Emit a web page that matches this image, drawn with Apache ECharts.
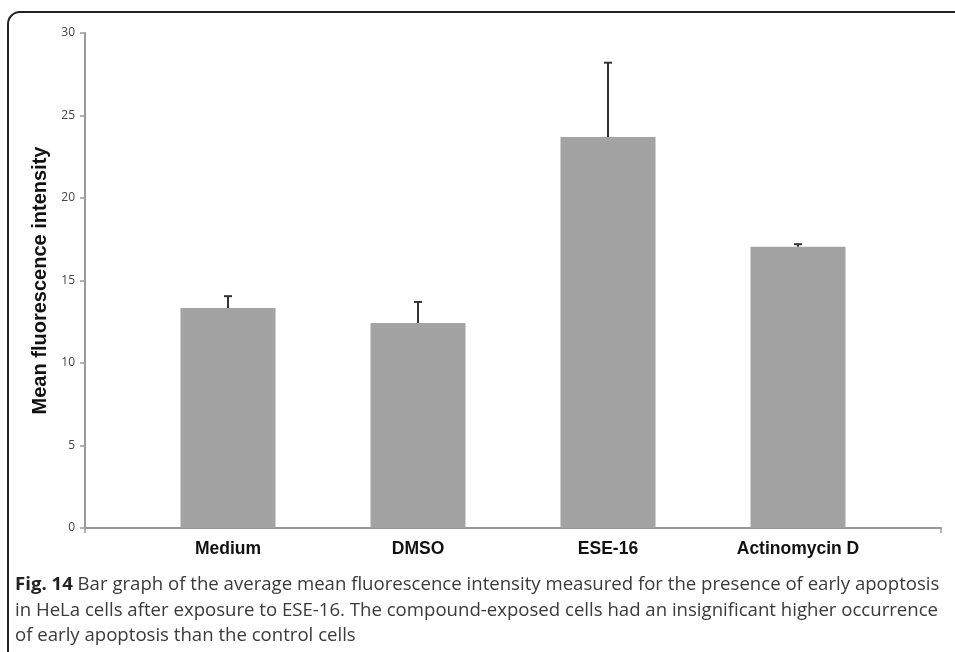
<!DOCTYPE html>
<html><head><meta charset="utf-8">
<script src="https://cdn.jsdelivr.net/npm/echarts@6/dist/echarts.min.js"></script>
<style>html,body{margin:0;padding:0;background:#fff}#c{width:955px;height:652px}</style>
</head><body><div id="c"></div>
<script>
var categories = ['Medium', 'DMSO', 'ESE-16', 'Actinomycin D'];
var means = [13.33, 12.42, 23.7, 17.05];
var errTops = [14.05, 13.7, 28.2, 17.2];
var yTicks = [0, 5, 10, 15, 20, 25, 30];

var chart = echarts.init(document.getElementById('c'));
var errData = categories.map(function (c, i) { return [i, means[i], errTops[i]]; });
var caption = '{b|Fig. 14} Bar graph of the average mean fluorescence intensity measured for the presence of early apoptosis\n' +
  'in HeLa cells after exposure to ESE-16. The compound-exposed cells had an insignificant higher occurrence\n' +
  'of early apoptosis than the control cells';
chart.setOption({
  animation: false,
  backgroundColor: '#fff',
  title: {
    text: caption, left: 10, top: 567,
    textStyle: {
      fontFamily: 'Open Sans', fontSize: 18.6, fontWeight: 'normal', color: '#3a3a3a', lineHeight: 25.5,
      rich: { b: { fontFamily: 'Open Sans', fontSize: 18.6, fontWeight: 'bold', color: '#222', lineHeight: 25.5 } }
    }
  },
  graphic: [{
    type: 'rect', silent: true,
    shape: { x: 8, y: 12, width: 1000, height: 700, r: [12, 0, 0, 0] },
    style: { fill: 'none', stroke: '#222', lineWidth: 2 }
  }],
  grid: [
    { left: 85, right: 14, top: 33, bottom: 124 },
    { left: 133, right: 62, top: 33, bottom: 124 }
  ],
  xAxis: [
    { type: 'value', gridIndex: 0, min: 0, max: 1, interval: 1,
      axisLine: { show: true, lineStyle: { color: '#999', width: 2 } },
      axisTick: { show: true, length: 5, lineStyle: { color: '#999', width: 1.5 } },
      axisLabel: { show: false }, splitLine: { show: false } },
    { type: 'category', gridIndex: 1, data: categories,
      axisLine: { show: false }, axisTick: { show: false },
      axisLabel: { fontFamily: 'Arial, Liberation Sans', fontWeight: 'bold', fontSize: 17.5, color: '#111', margin: 12 } }
  ],
  yAxis: [
    { type: 'value', gridIndex: 0, min: yTicks[0], max: yTicks[yTicks.length - 1], interval: 5,
      name: 'Mean fluorescence intensity', nameLocation: 'middle', nameGap: 29,
      nameTextStyle: { fontFamily: 'Arial, Liberation Sans', fontWeight: 'bold', fontSize: 20, color: '#111' },
      axisLine: { show: true, lineStyle: { color: '#999', width: 2 } },
      axisTick: { show: true, length: 5, lineStyle: { color: '#999', width: 1.5 } },
      axisLabel: { fontFamily: 'Open Sans', fontSize: 12, color: '#444', margin: 10 },
      splitLine: { show: false } },
    { type: 'value', gridIndex: 1, min: 0, max: 30, interval: 5, show: false }
  ],
  series: [
    { type: 'bar', xAxisIndex: 1, yAxisIndex: 1, data: means, barWidth: 95,
      itemStyle: { color: '#a3a3a3' } },
    { type: 'custom', xAxisIndex: 1, yAxisIndex: 1, data: errData, z: 5,
      renderItem: function (params, api) {
        var b = api.coord([api.value(0), api.value(1)]);
        var t = api.coord([api.value(0), api.value(2)]);
        return { type: 'group', children: [
          { type: 'line', shape: { x1: b[0], y1: b[1], x2: t[0], y2: t[1] }, style: { stroke: '#333', lineWidth: 2 } },
          { type: 'line', shape: { x1: t[0] - 4, y1: t[1], x2: t[0] + 4, y2: t[1] }, style: { stroke: '#333', lineWidth: 2 } }
        ] };
      } }
  ]
});
</script></body></html>
